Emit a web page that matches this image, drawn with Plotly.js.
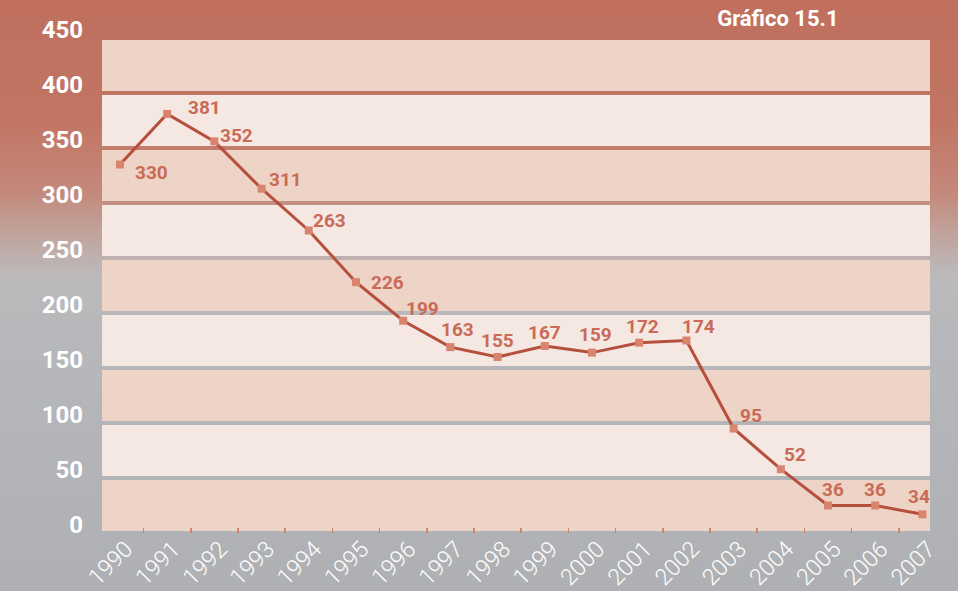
<!DOCTYPE html>
<html>
<head>
<meta charset="utf-8">
<script src="https://cdn.plot.ly/plotly-3.0.1.min.js"></script>
<style>
  html, body { margin: 0; padding: 0; }
  #chart {
    width: 958px; height: 591px;
    background: linear-gradient(to bottom, #c06f5d 0px, #c27564 120px, #c4887a 190px, #c0a49d 235px, #bcb9bb 275px, #b7b8bb 330px, #afb0b3 591px);
  }
</style>
</head>
<body>
<div id="chart"></div>
<script>
// ---- data ----
const years = ['1990','1991','1992','1993','1994','1995','1996','1997','1998','1999',
               '2000','2001','2002','2003','2004','2005','2006','2007'];
// heights of the markers as drawn
const plottedValues = [335, 381, 356, 313, 275, 228, 193, 169, 160, 170,
                       164, 173, 175, 95, 58, 25, 25, 17];
// numbers printed next to the markers
const valueLabels = [330, 381, 352, 311, 263, 226, 199, 163, 155, 167,
                     159, 172, 174, 95, 52, 36, 36, 34];
const yTicks = [0, 50, 100, 150, 200, 250, 300, 350, 400, 450];
const chartTitle = 'Gráfico 15.1';

// ---- styling (label offsets in pixels) ----
const labelShiftX = [32, 37, 22, 24, 21, 32, 19, 7, 0, 0, 3, 3, 12, 17, 14, 5, 0, -3];
const labelShiftY = [-8, 6, 6, 9, 10, 0, 12, 18, 17, 14, 18, 16, 14, 13, 15, 16, 16, 18];
const darkBand = '#eed3c7', lightBand = '#f5e8e3';
const gap = 1.8;

const shapes = [];
for (let i = 0; i < yTicks.length - 1; i++) {
  shapes.push({
    type: 'rect', xref: 'paper', yref: 'y', layer: 'below',
    x0: 0, x1: 1, y0: yTicks[i] + gap, y1: yTicks[i + 1] - gap,
    fillcolor: i % 2 === 0 ? darkBand : lightBand, line: { width: 0 }
  });
}

const annotations = years.map((yr, i) => ({
  x: i, y: plottedValues[i], xref: 'x', yref: 'y',
  text: String(valueLabels[i]), showarrow: false,
  xanchor: 'center', yanchor: 'middle',
  xshift: labelShiftX[i], yshift: labelShiftY[i],
  font: { family: 'Roboto', size: 19, color: '#c96b57', weight: 'bold' }
}));

const trace = {
  type: 'scatter', mode: 'lines+markers',
  x: years, y: plottedValues,
  line: { color: '#b64f3b', width: 3 },
  marker: { symbol: 'square', size: 8, color: '#d9846f' },
  hoverinfo: 'x+y'
};

const layout = {
  width: 958, height: 591,
  margin: { l: 102, r: 28, t: 38, b: 58 },
  paper_bgcolor: 'rgba(0,0,0,0)',
  plot_bgcolor: 'rgba(0,0,0,0)',
  showlegend: false,
  title: {
    text: chartTitle, xref: 'container', yref: 'container',
    x: 0.812, xanchor: 'center', y: 0.969, yanchor: 'middle',
    font: { family: 'Roboto', size: 22, color: '#ffffff', weight: 'bold' }
  },
  xaxis: {
    type: 'category', range: [-0.38, 17.16],
    tickson: 'boundaries', ticks: 'inside', ticklen: 5, tickwidth: 1.5, tickcolor: '#d4826c',
    tickangle: -45, showgrid: false, zeroline: false, showline: false,
    tickfont: { family: 'Roboto', size: 23, color: '#ffffff', weight: 300 },
    ticklabelshift: 6, ticklabelstandoff: -3
  },
  yaxis: {
    range: [0, 450], tickvals: yTicks, ticktext: yTicks.map(String),
    ticks: '', showgrid: false, zeroline: false, showline: false,
    tickfont: { family: 'Roboto', size: 24, color: '#ffffff', weight: 'bold' },
    ticklabelshift: -8, ticklabelstandoff: 18
  },
  shapes: shapes,
  annotations: annotations
};

Plotly.newPlot('chart', [trace], layout, { displayModeBar: false, staticPlot: true });
</script>
</body>
</html>
